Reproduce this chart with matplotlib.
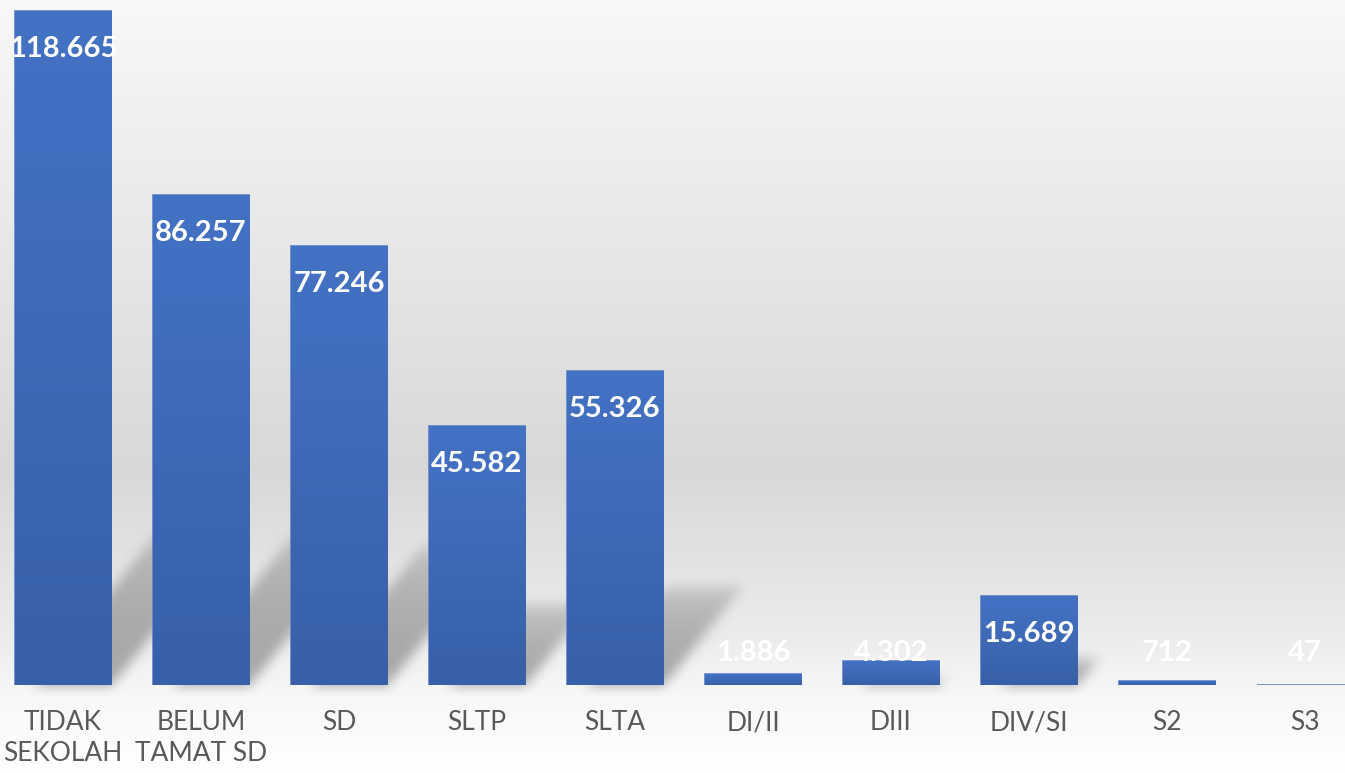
"""Bar chart: jumlah penduduk menurut pendidikan (recreated)."""

import numpy as np
import matplotlib

matplotlib.use("Agg")
import matplotlib.pyplot as plt
from matplotlib.colors import LinearSegmentedColormap

# --- data -------------------------------------------------------------
categories = ["TIDAK\nSEKOLAH", "BELUM\nTAMAT SD", "SD", "SLTP", "SLTA",
              "DI/II", "DIII", "DIV/SI", "S2", "S3"]
values = [118665, 86257, 77246, 45582, 55326, 1886, 4302, 15689, 712, 47]
value_labels = ["118.665", "86.257", "77.246", "45.582", "55.326",
                "1.886", "4.302", "15.689", "712", "47"]

W, H = 1345, 773
DPI = 100
FONT = ["Liberation Sans Narrow", "Lato", "DejaVu Sans"]


def _box_blur(a, r, passes=3):
    # cheap gaussian-ish blur, separable box filter
    for _ in range(passes):
        for axis in (0, 1):
            pad = [(0, 0), (0, 0)]
            pad[axis] = (r + 1, r)
            c = np.cumsum(np.pad(a, pad, mode="edge"), axis=axis)
            if axis == 0:
                a = (c[2 * r + 1:, :] - c[:-2 * r - 1, :]) / (2 * r + 1)
            else:
                a = (c[:, 2 * r + 1:] - c[:, :-2 * r - 1]) / (2 * r + 1)
    return a


fig = plt.figure(figsize=(W / DPI, H / DPI), dpi=DPI)

# background gradient (light top, darker band, light bottom)
bg = fig.add_axes([0, 0, 1, 1], zorder=0)
bg.set_axis_off()
stops = [(0.0, "#f8f8f8"), (470 / H, "#d8d8d8"), (640 / H, "#ececec"),
         (700 / H, "#f8f8f8"), (1.0, "#ffffff")]
bg_cmap = LinearSegmentedColormap.from_list("bg", stops)
grad = np.linspace(0, 1, H).reshape(-1, 1)
bg.imshow(grad, cmap=bg_cmap, aspect="auto", extent=(0, W, H, 0), vmin=0, vmax=1)
bg.set_xlim(0, W)
bg.set_ylim(H, 0)

# plot area: baseline at y=685 px, tallest bar top at y=11 px
base_px = 685
ax = fig.add_axes([0, (H - base_px) / H, 1, base_px / H], zorder=1)
ax.patch.set_alpha(0)
x = np.arange(len(categories))
step = 138
xlim = (-63 / step, (W - 63) / step)
ylim = (0, max(values) * base_px / (base_px - 11))

bars = ax.bar(x, values, width=0.70, color="#4472c4",
              edgecolor="#5f82c9", linewidth=1.2, zorder=2)

# bar gradient fill
bar_cmap = LinearSegmentedColormap.from_list("bar", ["#3860a8", "#4472c4"])
for b in bars:
    x0, y0 = b.get_x(), b.get_y()
    im = ax.imshow(np.linspace(0, 1, 256).reshape(-1, 1), cmap=bar_cmap,
                   aspect="auto", origin="lower", zorder=2.5,
                   extent=(x0, x0 + b.get_width(), y0, y0 + b.get_height()))
    im.set_clip_path(b)
ax.set_xlim(*xlim)
ax.set_ylim(*ylim)

# soft perspective shadows cast up-right behind the bars
fig.canvas.draw()
shadow = np.zeros((H, W))
yy, xx = np.mgrid[0:H, 0:W]
up = base_px - yy  # height above baseline in px
zero_px = ax.transData.transform((0, 0))[1]
for b in bars:
    (px0, _), (px1, ptop) = ax.transData.transform(
        [(b.get_x(), 0), (b.get_x() + b.get_width(), b.get_height())])
    bar_px = ptop - zero_px
    sh = min(0.32 * bar_px, 160)
    if sh < 4:
        continue
    shift = up / 1.25
    inside = (up >= 0) & (up <= sh) & (xx >= px0 + 20 + shift) & (xx <= px1 + shift)
    fade = np.clip(1 - up / sh, 0, 1) ** 0.3
    shadow = np.maximum(shadow, inside * fade)
shadow = _box_blur(shadow, 5)
rgba = np.zeros((H, W, 4))
rgba[..., :3] = 0.2
rgba[..., 3] = 0.40 * np.clip(shadow, 0, 1)
bg.imshow(rgba, aspect="auto", extent=(0, W, H, 0), zorder=1)
bg.set_xlim(0, W)
bg.set_ylim(H, 0)

# value labels, inside top of bar (kept off the baseline for tiny bars)
for i, (v, lab) in enumerate(zip(values, value_labels)):
    top_px = ax.transData.transform((i, v))[1] - zero_px
    off = max(top_px - 38, 32) - top_px
    ax.annotate(lab, xy=(i, v), xytext=(0, off), textcoords="offset pixels",
                ha="center", va="center", color="white", fontsize=21,
                fontweight="bold", family=FONT, zorder=4)

ax.set_xticks(x)
ax.set_xticklabels(categories, family=FONT, fontsize=19, color="#595959",
                   linespacing=1.3)
ax.tick_params(axis="x", length=0, pad=18)
ax.set_yticks([])
for s in ax.spines.values():
    s.set_visible(False)

fig.savefig("out.png", dpi=DPI)
